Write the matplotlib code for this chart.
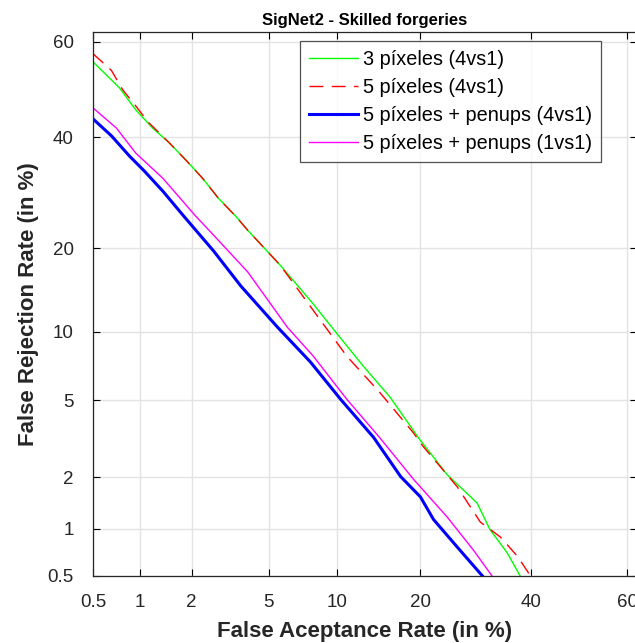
import numpy as np
from statistics import NormalDist
from matplotlib import pyplot as plt

plt.rcParams['font.family'] = ['Liberation Sans', 'DejaVu Sans']

# DET curves, FAR / FRR in %
far_3px = [0.5, 0.74, 0.94, 1.19, 1.49, 1.86, 2.30, 2.80, 3.44, 3.95, 5.66, 7.94,
           9.98, 12.6, 15.8, 19.9, 24.2, 29.4, 31.8, 35.1, 37.7]
frr_3px = [55.8, 50.4, 45.7, 41.9, 38.9, 35.4, 31.9, 28.2, 25.1, 22.8, 17.6, 12.8,
           9.78, 7.17, 5.17, 3.19, 2.07, 1.43, 0.99, 0.71, 0.5]

far_5px = [0.5, 0.66, 0.78, 0.94, 1.13, 1.49, 1.86, 2.30, 2.80, 3.44, 3.95, 5.66,
           7.94, 10.9, 14.5, 18.9, 20.4, 25.9, 30.0, 33.8, 37.2, 39.8]
frr_5px = [57.5, 54.0, 49.9, 46.5, 43.0, 38.9, 35.4, 31.9, 28.2, 25.1, 22.8, 17.6,
           12.1, 7.9, 5.45, 3.48, 2.94, 1.77, 1.10, 0.89, 0.67, 0.5]

far_pen4 = [0.5, 0.66, 0.86, 1.06, 1.37, 1.81, 2.64, 3.65, 5.50, 7.72, 10.3, 13.8,
            17.2, 20.0, 22.0, 25.9, 30.4]
frr_pen4 = [43.8, 40.3, 36.2, 33.3, 29.5, 25.1, 19.6, 14.9, 10.4, 7.45, 5.05, 3.27,
            2.02, 1.55, 1.14, 0.77, 0.5]

far_pen1 = [0.5, 0.71, 0.94, 1.37, 2.11, 2.64, 3.95, 6.10, 7.94, 10.9, 14.5, 19.0,
            24.2, 28.7, 32.2]
frr_pen1 = [46.1, 41.9, 36.8, 31.9, 25.1, 22.0, 16.7, 10.4, 7.9, 5.05, 3.27, 1.95,
            1.18, 0.74, 0.5]

ticks = [0.5, 1, 2, 5, 10, 20, 40, 60]
tick_labels = ['0.5', '1', '2', '5', '10', '20', '40', '60']

nd = NormalDist()


def fwd(v):
    v = np.clip(np.asarray(v, dtype=float) / 100.0, 1e-6, 1 - 1e-6)
    return np.vectorize(nd.inv_cdf, otypes=[float])(v)


def inv(v):
    return np.vectorize(nd.cdf, otypes=[float])(np.asarray(v, dtype=float)) * 100.0


fig = plt.figure(figsize=(6.35, 6.43), dpi=100)
ax = fig.add_axes([93 / 635, 67 / 643, 544 / 635, 544.3 / 643])
ax.set_xscale('function', functions=(fwd, inv))
ax.set_yscale('function', functions=(fwd, inv))

ax.plot(far_3px, frr_3px, color='#00ff00', lw=1.0, label='3 píxeles (4vs1)')
ax.plot(far_5px, frr_5px, color='#ff0000', lw=1.0, ls=(0, (10, 6)),
        label='5 píxeles (4vs1)')
ax.plot(far_pen4, frr_pen4, color='#0000ff', lw=2.2,
        label='5 píxeles + penups (4vs1)')
ax.plot(far_pen1, frr_pen1, color='#ff00ff', lw=1.0,
        label='5 píxeles + penups (1vs1)')

ax.set_xlim(0.5, 62)
ax.set_ylim(0.5, 62)
ax.set_xticks(ticks)
ax.set_xticklabels(tick_labels)
ax.set_yticks(ticks)
ax.set_yticklabels(tick_labels)
ax.minorticks_off()
ax.tick_params(direction='in', top=True, right=True, length=5, width=0.8,
               labelsize=13.5, labelcolor='#262626')
ax.tick_params(axis='x', pad=13)
ax.tick_params(axis='y', pad=14)
ax.grid(True, color='#e3e3e3', lw=1.0)
ax.set_axisbelow(True)
for s in ax.spines.values():
    s.set_color('#262626')
    s.set_linewidth(0.9)

ax.set_xlabel('False Aceptance Rate (in %)', fontsize=16, fontweight='bold',
              color='#262626', labelpad=7)
ax.set_ylabel('False Rejection Rate (in %)', fontsize=16, fontweight='bold',
              color='#262626', labelpad=6)
ax.set_title('SigNet2 - Skilled forgeries', fontsize=12, fontweight='bold',
             pad=5)

leg = ax.legend(loc='upper right', bbox_to_anchor=(0.934, 0.982),
                borderaxespad=0, fancybox=False, fontsize=14.3,
                handlelength=2.45, labelspacing=0.44, borderpad=0.45,
                handletextpad=0.25)
leg.get_frame().set_edgecolor('#262626')
leg.get_frame().set_linewidth(0.9)

plt.savefig('out.png', dpi=100)
